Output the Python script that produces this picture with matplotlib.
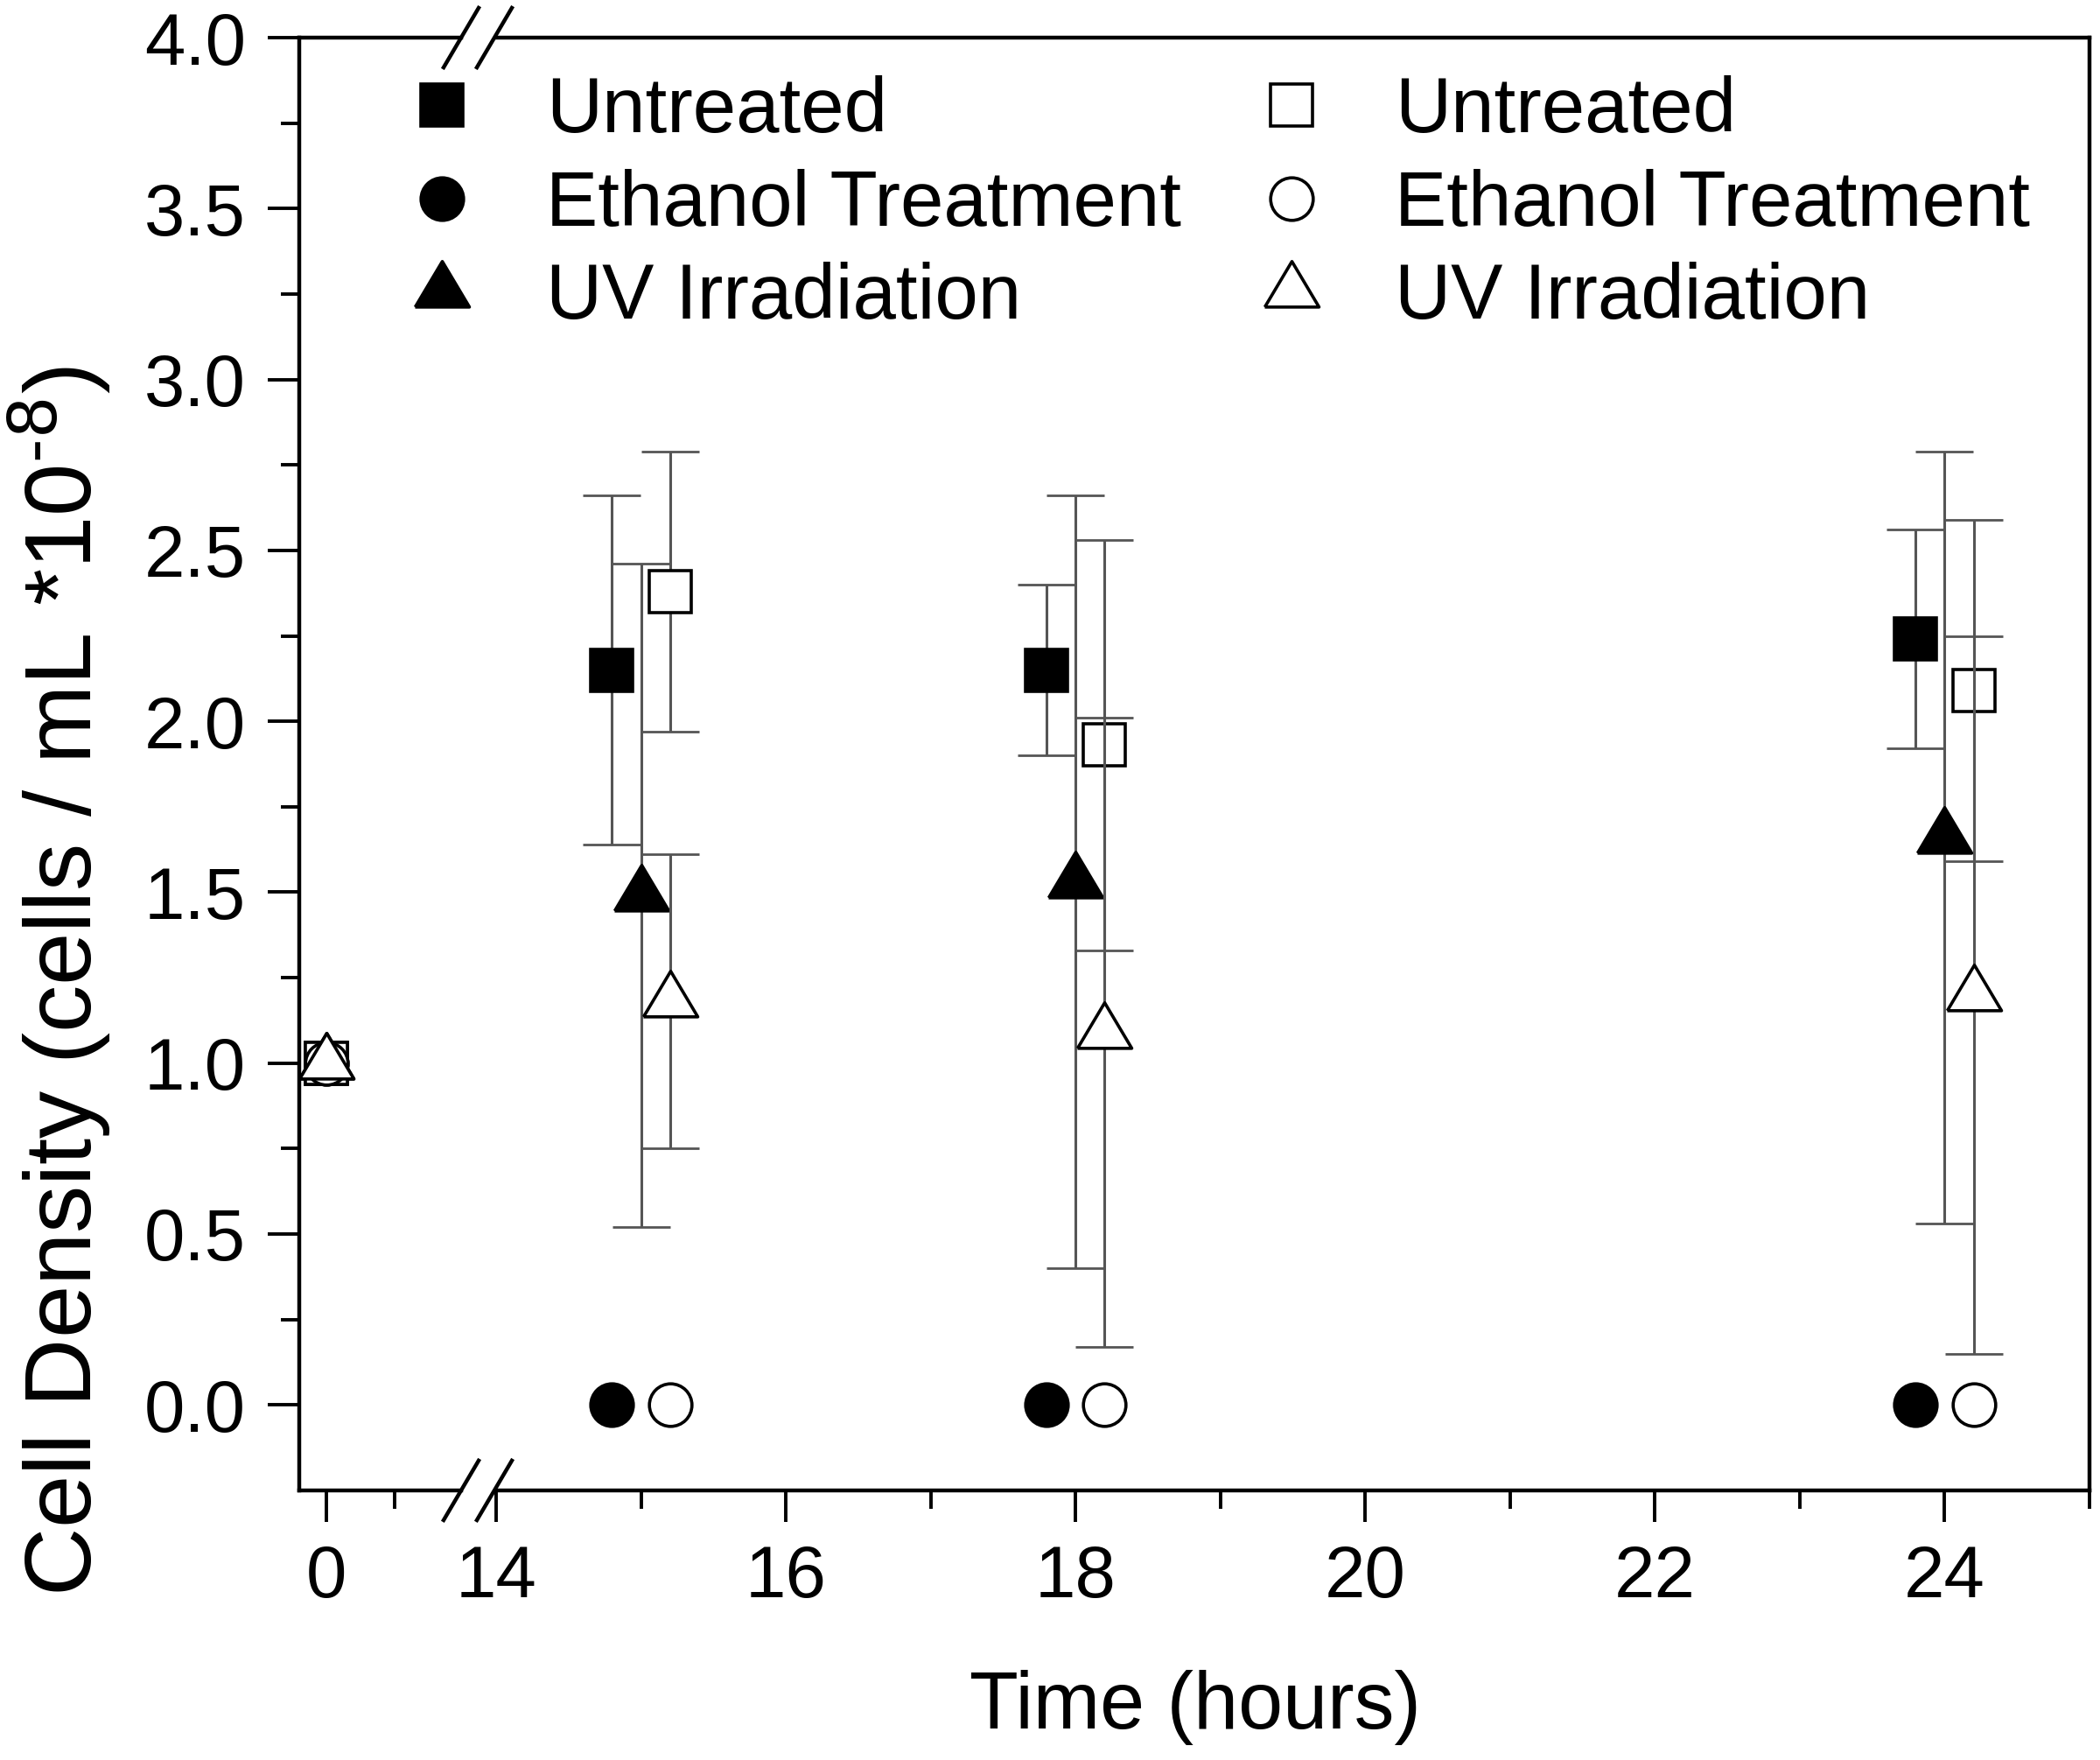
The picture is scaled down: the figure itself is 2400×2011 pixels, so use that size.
import matplotlib
matplotlib.use('Agg')
import numpy as np
import matplotlib.pyplot as plt
from matplotlib.lines import Line2D

plt.rcParams['font.family'] = ['Liberation Sans', 'DejaVu Sans']
plt.rcParams['mathtext.default'] = 'regular'

# Data (time 0 shares one point, the rest are the 15/18/24 h groups)
times = [0, 15, 18, 24]
labels = ['Untreated', 'Ethanol Treatment', 'UV Irradiation']

untreated_filled = [1.0, 2.15, 2.15, 2.24]
untreated_filled_err = [0, 0.51, 0.25, 0.32]
ethanol_filled = [1.0, 0.0, 0.0, 0.0]
uv_filled = [1.0, 1.49, 1.53, 1.66]
uv_filled_err = [0, 0.97, 1.13, 1.13]

untreated_open = [1.0, 2.38, 1.93, 2.09]
untreated_open_err = [0, 0.41, 0.60, 0.50]
ethanol_open = [1.0, 0.0, 0.0, 0.0]
uv_open = [1.0, 1.18, 1.09, 1.20]
uv_open_err = [0, 0.43, 0.92, 1.05]

# closed triangle centred on its centroid
tri = [(-1, -0.56), (1, -0.56), (0, 1.12), (-1, -0.56)]

series = [
    (untreated_filled, untreated_filled_err, 's', 17.5, 'black', -0.2),
    (ethanol_filled, None, 'o', 17.5, 'black', -0.2),
    (uv_filled, uv_filled_err, tri, 25, 'black', 0.0),
    (untreated_open, untreated_open_err, 's', 17.5, 'white', 0.2),
    (ethanol_open, None, 'o', 17.5, 'white', 0.2),
    (uv_open, uv_open_err, tri, 25, 'white', 0.2),
]

fig = plt.figure(figsize=(12, 10.055), dpi=200)
ax0 = fig.add_axes([0.1425, 0.1532, 0.0771, 0.8254])
ax1 = fig.add_axes([0.23625, 0.1532, 0.75875, 0.8254], sharey=ax0)

t = np.array(times)
for i, (vals, errs, mk, ms, face, off) in enumerate(series):
    vals = np.array(vals)
    z = 2 + i * 0.5
    ax0.plot(t[0], vals[0], ls='none', marker=mk, ms=ms, mfc=face, mec='black',
             mew=1.3, zorder=z)
    if errs is None:
        ax1.plot(t[1:] + off, vals[1:], ls='none', marker=mk, ms=ms, mfc=face,
                 mec='black', mew=1.3, zorder=z)
    else:
        ax1.errorbar(t[1:] + off, vals[1:], yerr=np.array(errs)[1:], fmt='none',
                     ecolor='#555555', elinewidth=1.1, capsize=12, capthick=1.0,
                     zorder=z)
        ax1.plot(t[1:] + off, vals[1:], ls='none', marker=mk, ms=ms, mfc=face,
                 mec='black', mew=1.3, zorder=z + 0.1)

ax0.set_xlim(-0.2, 0.99)
ax1.set_xlim(14, 25)
ax0.set_ylim(-0.25, 4.0)

ax0.set_xticks([0])
ax0.set_xticks([0.5], minor=True)
ax1.set_xticks(range(14, 25, 2))
ax1.set_xticks(range(14, 26), minor=True)
ax0.set_yticks(np.arange(0, 4.01, 0.5))
ax0.set_yticks(np.arange(0.25, 4.0, 0.5), minor=True)
ax0.set_yticklabels(['%.1f' % v for v in np.arange(0, 4.01, 0.5)])

for ax in (ax0, ax1):
    for s in ax.spines.values():
        s.set_linewidth(1.6)
    ax.tick_params(which='major', direction='out', length=13, width=1.4,
                   labelsize=30, pad=9)
    ax.tick_params(which='minor', direction='out', length=7.5, width=1.4)
ax0.spines['right'].set_visible(False)
ax1.spines['left'].set_visible(False)
ax1.tick_params(axis='y', which='both', left=False, labelleft=False)

# break marks
top, bot = 0.9786, 0.1532
for xc in (527 / 2400, 565 / 2400):
    for yc in (top, bot):
        fig.add_artist(Line2D([xc - 20 / 2400, xc + 20 / 2400],
                              [yc - 34 / 2011, yc + 34 / 2011],
                              color='black', lw=1.6, transform=fig.transFigure))

fig.text(0.569, 0.030, 'Time (hours)', ha='center', va='center', fontsize=33)
fig.text(0.0287, 0.4426, r'Cell Density (cells / mL *10$^{\text{-8}}$)', rotation=90,
         ha='center', va='center', fontsize=39)

handles = [Line2D([], [], ls='none', marker=mk, ms=ms, mfc=face, mec='black', mew=1.3)
           for (_, _, mk, ms, face, _) in series]
fig.legend(handles, labels * 2, ncol=2, loc='upper left',
           bbox_to_anchor=(461 / 2400, 0.957), frameon=False, fontsize=32,
           handlelength=1.0, handletextpad=0.83, columnspacing=0.92,
           labelspacing=0.25, borderpad=0, borderaxespad=0)

plt.savefig('out.png', dpi=200)
